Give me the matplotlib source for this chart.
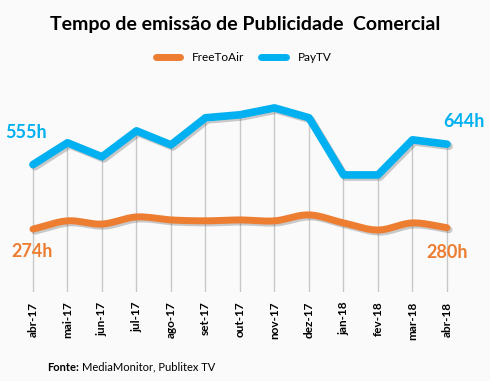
import numpy as np
import matplotlib
matplotlib.use("Agg")
import matplotlib.pyplot as plt
import matplotlib.patheffects as pe
from matplotlib.lines import Line2D

months = ["abr-17", "mai-17", "jun-17", "jul-17", "ago-17", "set-17", "out-17",
          "nov-17", "dez-17", "jan-18", "fev-18", "mar-18", "abr-18"]
paytv = [555, 650, 589, 702, 641, 759, 772, 802, 759, 510, 510, 663, 644]
freetoair = [274, 310, 296, 327, 314, 310, 314, 310, 336, 301, 270, 301, 280]

BLUE = "#00B0F0"
ORANGE = "#ED7D31"
BG = "#FAFAFA"

plt.rcParams['font.family'] = ['Lato', 'DejaVu Sans']


def smooth(x, y, n=20):
    # Catmull-Rom spline for drawing a smoothed line (Excel-like)
    x = np.asarray(x, float)
    y = np.asarray(y, float)
    px = np.concatenate([[2 * x[0] - x[1]], x, [2 * x[-1] - x[-2]]])
    py = np.concatenate([[2 * y[0] - y[1]], y, [2 * y[-1] - y[-2]]])
    xs, ys = [], []
    t = np.linspace(0, 1, n, endpoint=False)
    for i in range(1, len(px) - 2):
        for arr, out in ((px, xs), (py, ys)):
            p0, p1, p2, p3 = arr[i - 1], arr[i], arr[i + 1], arr[i + 2]
            out.extend(0.5 * ((2 * p1) + (-p0 + p2) * t +
                              (2 * p0 - 5 * p1 + 4 * p2 - p3) * t ** 2 +
                              (-p0 + 3 * p1 - 3 * p2 + p3) * t ** 3))
    xs.append(x[-1])
    ys.append(y[-1])
    return np.array(xs), np.array(ys)


fig = plt.figure(figsize=(4.9, 3.81), dpi=100, facecolor=BG)
ax = fig.add_axes([0.0321, 0.2336, 0.9153, 0.5302])
ax.set_facecolor(BG)
x = np.arange(len(months))

# drop lines
ax.vlines(x, 0, np.maximum(paytv, freetoair), color="#C8C8C8", lw=1.0, zorder=1)

shadow = [pe.SimpleLineShadow(offset=(1.5, -1.5), shadow_color="#555555", alpha=0.3),
          pe.Normal()]

sx, sy = smooth(x, freetoair)
ax.plot(sx, sy, color=ORANGE, lw=5.0, solid_capstyle="round",
        solid_joinstyle="round", path_effects=shadow, zorder=3)
ax.plot(x, paytv, color=BLUE, lw=5.5, solid_capstyle="round",
        solid_joinstyle="round", path_effects=shadow, zorder=4)

ax.set_xlim(-0.5, len(months) - 0.5)
ax.set_ylim(0, 880)
ax.set_xticks(x)
ax.set_xticklabels(months, rotation=90, fontsize=8.5, fontweight="bold")
ax.tick_params(axis="x", length=0, pad=7)
ax.set_yticks([])
for s in ax.spines.values():
    s.set_visible(False)

# end labels
lab = dict(textcoords="offset points", ha="center", va="center", fontsize=13, fontweight="bold")
ax.annotate(f"{paytv[0]}h", (x[0], paytv[0]), xytext=(-5, 23), color=BLUE, **lab)
ax.annotate(f"{paytv[-1]}h", (x[-1], paytv[-1]), xytext=(12, 16.5), color=BLUE, **lab)
ax.annotate(f"{freetoair[0]}h", (x[0], freetoair[0]), xytext=(-1, -16), color=ORANGE, **lab)
ax.annotate(f"{freetoair[-1]}h", (x[-1], freetoair[-1]), xytext=(0, -18), color=ORANGE, **lab)

fig.text(0.5, 0.935, "Tempo de emissão de Publicidade  Comercial", ha="center", va="center",
         fontsize=14, fontweight="bold", color="black")

# legend
handles = [Line2D([], [], color=ORANGE, lw=5, solid_capstyle="round"),
           Line2D([], [], color=BLUE, lw=5, solid_capstyle="round")]
fig.legend(handles, ["FreeToAir", "PayTV"], loc="center", bbox_to_anchor=(0.497, 0.848),
           ncol=2, frameon=False, fontsize=8.5, handlelength=2.1, columnspacing=1.4,
           handletextpad=1.0)

fig.text(0.096, 0.036, "Fonte:", fontsize=8, fontweight="bold", ha="left", va="center")
fig.text(0.168, 0.036, "MediaMonitor, Publitex TV", fontsize=8, ha="left", va="center")

fig.savefig("out.png", dpi=100, facecolor=BG)
